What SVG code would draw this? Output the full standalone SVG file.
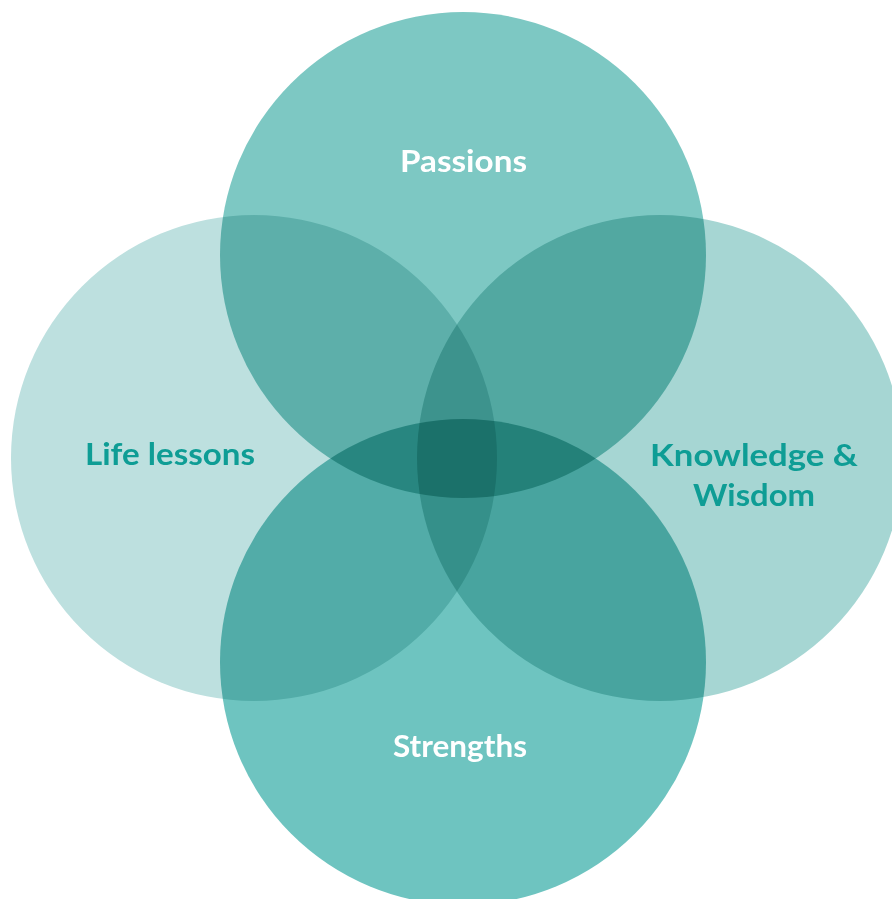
<svg xmlns="http://www.w3.org/2000/svg" width="892" height="899" viewBox="0 0 892 899">
  <style>
    .ring { mix-blend-mode: multiply; }
    .label { font-family: Lato, "Liberation Sans", sans-serif; font-weight: 700; font-size: 31px; text-anchor: middle; }
    .light { fill: #ffffff; }
    .dark { fill: #0e9d95; }
  </style>
  <rect width="892" height="899" fill="#ffffff"/>
  <g id="circles" style="isolation:isolate">
    <g id="life-lessons">
      <circle class="ring" cx="254" cy="458" r="243" fill="#bde0df"/>
    </g>
    <g id="knowledge-wisdom">
      <circle class="ring" cx="660" cy="458" r="243" fill="#a6d6d3"/>
    </g>
    <g id="passions">
      <circle class="ring" cx="463" cy="255" r="243" fill="#7dc8c3"/>
    </g>
    <g id="strengths">
      <circle class="ring" cx="463" cy="662" r="243" fill="#6ec4c0"/>
    </g>
  </g>
  <g id="labels">
    <text class="label light" x="463.5" y="172" textLength="127" lengthAdjust="spacingAndGlyphs">Passions</text>
    <text class="label dark" x="170" y="465" textLength="170" lengthAdjust="spacingAndGlyphs">Life lessons</text>
    <text class="label dark" x="754" y="466" textLength="208" lengthAdjust="spacingAndGlyphs">Knowledge &amp;</text>
    <text class="label dark" x="754" y="506" textLength="122" lengthAdjust="spacingAndGlyphs">Wisdom</text>
    <text class="label light" x="460" y="757" textLength="134" lengthAdjust="spacingAndGlyphs">Strengths</text>
  </g>
</svg>
